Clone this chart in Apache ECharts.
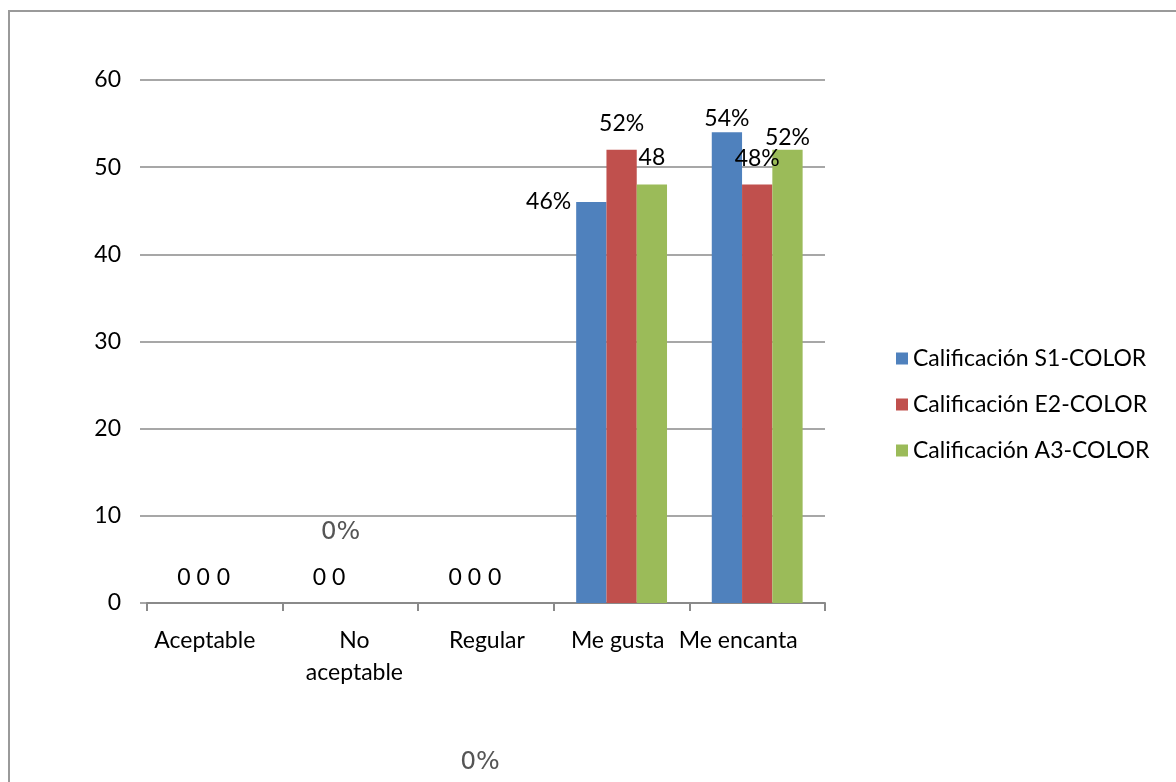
<!DOCTYPE html>
<html>
<head>
<meta charset="utf-8">
<script src="https://cdn.jsdelivr.net/npm/echarts@6/dist/echarts.min.js"></script>
<style>
  html, body { margin: 0; padding: 0; background: #ffffff; }
  #chart { width: 1176px; height: 782px; }
</style>
</head>
<body>
<div id="chart"></div>
<script>
// Categories and series values
const categories = ['Aceptable', 'No aceptable', 'Regular', 'Me gusta', 'Me encanta'];
const seriesNames = ['Calificación S1-COLOR', 'Calificación E2-COLOR', 'Calificación A3-COLOR'];
const valuesS1 = [0, 0, 0, 46, 54];
const valuesE2 = [0, 0, 0, 52, 48];
const valuesA3 = [0, 0, 0, 48, 52];
// Text appended to each value in its data label
const suffixS1 = ['', '', '', '%', '%'];
const suffixE2 = ['', '', '', '%', '%'];
const suffixA3 = ['', '%', '', '', '%'];
const yTicks = { min: 0, max: 60, interval: 10 };
const strayNote = '0%';

const colors = ['#4F81BD', '#C0504D', '#9BBB59'];
const FONT = 'Lato';
const FS = 23;
const NOTE_STYLE = { fontFamily: 'DejaVu Sans', fontSize: 25, color: '#555555' };
// Horizontal nudge (px) of each category label from its slot centre
const categoryLabelShift = [-10, 4, 1, -4, -19];

// Label placement for each bar (relative to the bar's top-left corner)
const zeroLabel = (dx) => ({ position: [dx, -25], align: 'center', verticalAlign: 'middle' });
const topLabel = (d) => ({ position: 'top', distance: d });
const placeS1 = [zeroLabel(14.5), zeroLabel(14.5), zeroLabel(14.5),
  { position: [-5, 0], align: 'right', verticalAlign: 'middle' }, topLabel(2)];
const placeE2 = [zeroLabel(3.5), zeroLabel(3.5), zeroLabel(3.5), topLabel(15), topLabel(15)];
const placeA3 = [zeroLabel(-6.5),
  Object.assign({ position: [-25, -71], align: 'center', verticalAlign: 'middle' }, NOTE_STYLE),
  zeroLabel(-6.5), topLabel(16), topLabel(1)];

function buildData(values, suffix, place) {
  return values.map((v, i) => ({
    value: v,
    label: Object.assign({
      show: true,
      formatter: () => v + suffix[i],
      fontFamily: FONT, fontSize: FS, color: '#000000'
    }, place[i])
  }));
}

const categoryData = categories.map((c, i) => {
  const s = categoryLabelShift[i];
  return {
    value: c,
    textStyle: { padding: s >= 0 ? [0, 0, 0, 2 * s] : [0, -2 * s, 0, 0] }
  };
});

const chart = echarts.init(document.getElementById('chart'), null, { renderer: 'canvas' });

const seriesDefs = [
  [valuesS1, suffixS1, placeS1],
  [valuesE2, suffixE2, placeE2],
  [valuesA3, suffixA3, placeA3]
];

chart.setOption({
  animation: false,
  backgroundColor: '#ffffff',
  color: colors,
  textStyle: { fontFamily: FONT },
  graphic: [
    { type: 'rect', shape: { x: 9, y: 11, width: 1300, height: 900 },
      style: { fill: 'none', stroke: '#9a9a9a', lineWidth: 2 }, z: -1 },
    { type: 'text', x: 480, y: 762,
      style: { text: strayNote, font: NOTE_STYLE.fontSize + 'px "' + NOTE_STYLE.fontFamily + '"',
        fill: NOTE_STYLE.color, textAlign: 'center', textVerticalAlign: 'middle' } }
  ],
  grid: { left: 147, top: 80, width: 678, height: 523, containLabel: false },
  legend: {
    orient: 'vertical', left: 891, top: 342,
    icon: 'rect', itemWidth: 12, itemHeight: 12, itemGap: 23,
    textStyle: { fontFamily: FONT, fontSize: FS, color: '#000000', lineHeight: 23 },
    data: seriesNames
  },
  xAxis: {
    type: 'category',
    data: categoryData,
    axisLine: { lineStyle: { color: '#8a8a8a', width: 2 } },
    axisTick: { show: true, length: 8, interval: 0, lineStyle: { color: '#8a8a8a', width: 2 } },
    axisLabel: {
      interval: 0, margin: 22, fontFamily: FONT, fontSize: FS, color: '#000000', lineHeight: 32,
      formatter: (v) => v.replace('No ', 'No\n')
    }
  },
  yAxis: {
    type: 'value',
    min: yTicks.min, max: yTicks.max, interval: yTicks.interval,
    axisLine: { show: false },
    axisTick: { show: true, length: 7, lineStyle: { color: '#8a8a8a', width: 1.5 } },
    splitLine: { lineStyle: { color: '#8a8a8a', width: 1.5 } },
    axisLabel: { margin: 26, fontFamily: FONT, fontSize: FS, color: '#000000' }
  },
  series: seriesDefs.map((d, k) => ({
    name: seriesNames[k],
    type: 'bar',
    barGap: '0%',
    barCategoryGap: '33%',
    data: buildData(d[0], d[1], d[2])
  }))
});
</script>
</body>
</html>
